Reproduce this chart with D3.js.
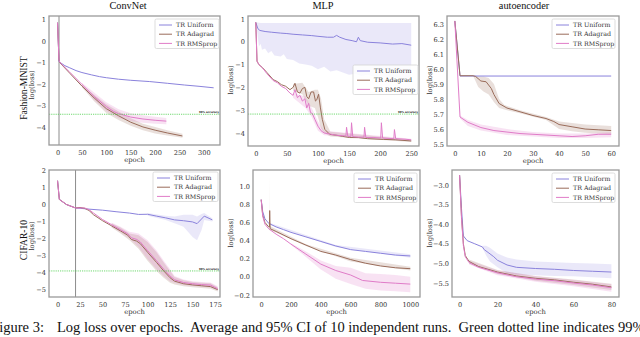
<!DOCTYPE html>
<html>
<head>
<meta charset="utf-8">
<script src="https://cdn.jsdelivr.net/npm/d3@7"></script>
<style>
  body { margin: 0; background: #fff; }
  svg { display: block; }
  .tick text { font-family: "DejaVu Serif", serif; font-size: 6.6px; fill: #333; }
</style>
</head>
<body>
<svg id="fig" width="640" height="337"></svg>
<script>
// ---- data (epoch, log loss) ----
const legendLabels = ['TR Uniform', 'TR Adagrad', 'TR RMSprop'];

// Fashion-MNIST / ConvNet
const fmConvUniform = [[0,0.85],[3,-0.95],[5,-1.0],[15,-1.15],[25,-1.25],[38,-1.38],[50,-1.47],[70,-1.58],[86,-1.66],[100,-1.71],[125,-1.78],[150,-1.83],[189,-1.89],[225,-1.97],[260,-2.05],[290,-2.11],[320,-2.18]];
const fmConvAdagrad = [[0,0.85],[3,-0.9],[5,-1.02],[25,-1.5],[50,-2.1],[75,-2.65],[100,-3.15],[125,-3.48],[150,-3.78],[175,-4.0],[200,-4.15],[225,-4.28],[256,-4.42]];
const fmConvRmsprop = [[0,0.85],[3,-0.9],[5,-1.0],[25,-1.45],[50,-2.02],[75,-2.58],[100,-3.05],[115,-3.28],[125,-3.38],[150,-3.54],[175,-3.63],[200,-3.69],[223,-3.73]];
const fmConvAdagradBand = [[50,-2.15,-2.05],[75,-2.8,-2.5],[100,-3.35,-2.95],[125,-3.68,-3.28],[150,-3.95,-3.6],[175,-4.15,-3.85],[200,-4.3,-4.0],[225,-4.4,-4.15],[256,-4.5,-4.32]];
const fmConvRmspropBand = [[50,-2.1,-1.95],[75,-2.75,-2.4],[100,-3.25,-2.85],[125,-3.58,-3.18],[150,-3.72,-3.36],[175,-3.8,-3.46],[200,-3.85,-3.53],[223,-3.88,-3.58]];
const fmConvAccuracy = -3.41;
const fmConvMarker = 3;

// Fashion-MNIST / MLP
const fmMlpUniform = [[0,0.85],[3,0.6],[6,0.5],[15,0.45],[25,0.42],[40,0.38],[50,0.36],[60,0.33],[75,0.3],[90,0.27],[100,0.24],[115,0.2],[125,0.2],[130,0.28],[135,0.2],[145,0.1],[155,0.05],[162,0.0],[165,0.2],[168,0.05],[180,-0.02],[200,-0.05],[220,-0.1],[235,-0.08],[250,-0.15]];
const fmMlpUniformBand = [[0,0.85,0.85],[3,0.3,0.84],[5,-0.2,0.83],[8,-0.1,0.82],[10,-0.35,0.82],[15,-0.3,0.82],[20,-0.5,0.82],[25,-0.4,0.82],[30,-0.6,0.82],[40,-0.65,0.82],[45,-0.55,0.82],[50,-0.75,0.82],[60,-0.8,0.82],[70,-0.95,0.82],[80,-1.0,0.82],[90,-1.05,0.82],[100,-1.2,0.82],[110,-1.1,0.82],[120,-1.3,0.82],[130,-1.25,0.82],[140,-1.35,0.82],[150,-1.45,0.82],[160,-1.4,0.82],[170,-1.5,0.82],[180,-1.45,0.82],[190,-1.55,0.82],[200,-1.5,0.82],[210,-1.6,0.82],[220,-1.55,0.82],[230,-1.6,0.82],[240,-1.65,0.82],[250,-1.6,0.82]];
const fmMlpAdagrad = [[0,0.85],[2,-0.85],[5,-1.0],[11,-1.14],[18,-1.35],[28,-1.66],[35,-1.75],[41,-1.88],[48,-1.95],[55,-2.1],[60,-2.0],[63,-1.82],[67,-2.2],[71,-2.25],[75,-2.05],[79,-2.0],[82,-2.4],[85,-2.5],[89,-2.2],[93,-2.2],[96,-2.6],[98,-2.55],[101,-2.3],[104,-2.9],[107,-3.4],[111,-3.84],[119,-4.06],[130,-4.1],[140,-4.15],[151,-4.2],[165,-4.2],[180,-4.25],[205,-4.28],[225,-4.3],[250,-4.35]];
const fmMlpRmsprop = [[0,0.85],[2,-0.85],[5,-1.0],[11,-1.15],[18,-1.4],[28,-1.7],[35,-1.8],[41,-1.95],[48,-2.05],[55,-2.25],[60,-2.35],[63,-2.1],[67,-2.45],[71,-2.35],[75,-2.6],[79,-2.5],[82,-2.9],[85,-2.7],[88,-3.1],[91,-3.15],[95,-3.4],[100,-3.7],[105,-3.9],[110,-4.0],[120,-4.05],[130,-4.1],[140,-4.12],[145,-4.13],[146,-3.75],[148,-4.15],[153,-4.15],[154,-3.55],[156,-4.16],[165,-4.18],[174,-4.18],[175,-3.75],[177,-4.2],[190,-4.2],[201,-4.22],[202,-3.55],[204,-4.22],[222,-4.25],[223,-3.85],[225,-4.25],[240,-4.27],[250,-4.3]];
const fmMlpAdagradBand = [[60,-2.15,-1.85],[75,-2.3,-1.8],[85,-2.8,-2.2],[95,-2.9,-2.1],[100,-3.3,-2.1],[105,-3.8,-2.5],[110,-4.0,-3.4],[120,-4.15,-3.95],[250,-4.4,-4.3]];
const fmMlpRmspropBand = [[60,-2.45,-2.25],[80,-2.9,-2.4],[90,-3.3,-2.9],[100,-3.9,-3.5],[110,-4.1,-3.9],[250,-4.35,-4.25]];
const fmMlpAccuracy = -3.17;

// Fashion-MNIST / autoencoder
const fmAeUniform = [[0,6.32],[2,5.953],[60,5.953]];
const fmAeAdagrad = [[0,6.32],[2,5.955],[7,5.955],[8,5.95],[10,5.92],[12,5.915],[14,5.87],[15,5.83],[17,5.77],[20,5.74],[25,5.715],[30,5.69],[35,5.67],[38,5.65],[40,5.63],[45,5.615],[50,5.6],[55,5.595],[60,5.59]];
const fmAeRmsprop = [[0,6.32],[2,5.68],[5,5.645],[10,5.61],[15,5.59],[20,5.58],[25,5.57],[30,5.565],[35,5.56],[40,5.555],[45,5.55],[50,5.555],[55,5.565],[60,5.565]];
const fmAeAdagradBand = [[7,5.955,5.955],[9,5.88,5.95],[11,5.85,5.95],[13,5.83,5.94],[15,5.78,5.9],[17,5.74,5.8],[19,5.73,5.76],[25,5.705,5.725],[35,5.66,5.68],[40,5.6,5.65],[45,5.585,5.64],[50,5.575,5.63],[55,5.57,5.625],[60,5.565,5.62]];
const fmAeRmspropBand = [[2,5.67,5.69],[5,5.62,5.66],[10,5.59,5.63],[20,5.56,5.6],[30,5.55,5.58],[40,5.54,5.57],[50,5.54,5.57],[60,5.545,5.58]];

// CIFAR-10 / ConvNet
const cfConvUniform = [[0,1.4],[2,0.3],[10,0.0],[20,-0.2],[25,-0.22],[35,-0.27],[50,-0.33],[65,-0.42],[80,-0.5],[90,-0.58],[100,-0.57],[110,-0.68],[120,-0.78],[130,-0.9],[140,-0.95],[150,-1.02],[155,-1.12],[163,-0.68],[172,-0.9]];
const cfConvUniformBand = [[100,-0.65,-0.5],[120,-0.9,-0.65],[130,-1.1,-0.7],[140,-1.3,-0.6],[150,-1.9,-0.6],[155,-2.1,-0.7],[160,-1.5,-0.55],[163,-0.9,-0.5],[172,-1.0,-0.8]];
const cfConvAdagrad = [[0,1.4],[2,0.3],[10,0.0],[20,-0.2],[25,-0.17],[30,-0.22],[35,-0.35],[40,-0.6],[50,-0.95],[60,-1.25],[70,-1.55],[78,-1.8],[82,-2.05],[88,-2.15],[92,-2.3],[100,-2.8],[110,-3.4],[118,-3.9],[125,-4.3],[130,-4.5],[140,-4.65],[150,-4.72],[160,-4.77],[170,-4.82],[178,-5.0]];
const cfConvRmsprop = [[0,1.4],[2,0.3],[10,0.0],[20,-0.2],[25,-0.2],[30,-0.2],[35,-0.3],[40,-0.5],[50,-0.88],[60,-1.18],[70,-1.48],[78,-1.72],[82,-1.95],[88,-2.05],[92,-2.2],[100,-2.7],[110,-3.3],[118,-3.8],[125,-4.2],[130,-4.42],[140,-4.58],[150,-4.65],[160,-4.7],[170,-4.73],[178,-4.95]];
const cfConvAdagradBand = [[60,-1.35,-1.1],[70,-1.7,-1.35],[80,-2.1,-1.7],[90,-2.6,-1.8],[100,-3.3,-2.2],[110,-3.9,-2.8],[118,-4.3,-3.4],[125,-4.6,-3.9],[130,-4.7,-4.25],[140,-4.8,-4.45],[150,-4.85,-4.55],[160,-4.9,-4.6],[170,-4.95,-4.62],[178,-5.1,-4.85]];
const cfConvRmspropBand = [[60,-1.3,-1.05],[70,-1.62,-1.3],[80,-2.0,-1.6],[90,-2.5,-1.7],[100,-3.2,-2.1],[110,-3.8,-2.7],[118,-4.2,-3.3],[125,-4.5,-3.8],[130,-4.6,-4.2],[140,-4.72,-4.4],[150,-4.78,-4.5],[160,-4.83,-4.55],[170,-4.87,-4.58],[178,-5.05,-4.8]];
const cfConvAccuracy = -3.9;
const cfConvMarker = 20;

// CIFAR-10 / MLP
const cfMlpUniform = [[0,0.85],[10,0.72],[25,0.64],[50,0.59],[100,0.55],[150,0.52],[200,0.49],[300,0.44],[400,0.39],[500,0.34],[600,0.3],[700,0.28],[800,0.26],[900,0.24],[1000,0.23]];
const cfMlpAdagrad = [[0,0.85],[10,0.68],[25,0.6],[50,0.55],[55,0.55],[57,0.73],[60,0.53],[100,0.5],[200,0.42],[300,0.35],[400,0.28],[500,0.24],[600,0.19],[700,0.15],[800,0.12],[900,0.1],[1000,0.09]];
const cfMlpRmsprop = [[0,0.85],[10,0.67],[25,0.58],[50,0.53],[100,0.47],[150,0.42],[200,0.36],[300,0.25],[400,0.14],[500,0.07],[600,0.02],[680,-0.04],[800,-0.06],[900,-0.07],[1000,-0.08]];
const cfMlpUniformBand = [[50,0.58,0.6],[500,0.33,0.35],[1000,0.21,0.25]];
const cfMlpAdagradBand = [[50,0.54,0.56],[56,0.54,0.56],[57,0.5,1.12],[58,0.52,0.56],[300,0.34,0.36],[600,0.17,0.21],[1000,0.07,0.11]];
const cfMlpRmspropBand = [[200,0.35,0.37],[300,0.22,0.28],[400,0.08,0.18],[500,-0.02,0.12],[600,-0.08,0.1],[700,-0.13,0.04],[800,-0.15,0.03],[900,-0.16,0.02],[1000,-0.17,0.0]];

// CIFAR-10 / autoencoder
const cfAeUniform = [[0,-2.75],[1,-3.6],[2,-4.3],[4,-4.42],[8,-4.5],[12,-4.58],[13,-4.65],[15,-4.72],[18,-4.83],[20,-4.92],[25,-5.04],[30,-5.1],[40,-5.13],[50,-5.15],[60,-5.18],[70,-5.2],[80,-5.22]];
const cfAeUniformBand = [[12,-4.6,-4.55],[14,-4.8,-4.55],[16,-4.95,-4.6],[20,-5.1,-4.75],[25,-5.25,-4.85],[30,-5.28,-4.9],[40,-5.3,-4.95],[50,-5.32,-4.97],[60,-5.33,-4.99],[70,-5.35,-5.0],[80,-5.38,-5.02]];
const cfAeAdagrad = [[0,-2.75],[1,-3.8],[2,-4.5],[3,-4.8],[5,-4.95],[10,-5.08],[15,-5.15],[20,-5.22],[30,-5.32],[40,-5.38],[50,-5.42],[60,-5.48],[70,-5.53],[80,-5.6]];
const cfAeRmsprop = [[0,-2.75],[1,-3.85],[2,-4.55],[3,-4.83],[5,-4.98],[10,-5.1],[15,-5.17],[20,-5.24],[30,-5.34],[40,-5.4],[50,-5.44],[60,-5.5],[70,-5.55],[80,-5.62]];
const cfAeAdagradBand = [[5,-5.0,-4.9],[20,-5.27,-5.17],[40,-5.44,-5.32],[60,-5.55,-5.41],[80,-5.68,-5.52]];
const cfAeRmspropBand = [[5,-5.03,-4.93],[20,-5.3,-5.18],[40,-5.47,-5.33],[60,-5.58,-5.42],[80,-5.72,-5.53]];

// caption text (the reference crops it at both edges)
const captionHead = 'Figure 3:';
const captionBody = 'Log loss over epochs.  Average and 95% CI of 10 independent runs.  Green dotted line indicates';
const captionTail = ' 99%';

// ---- layout ----
const colors = ['#8a82dc', '#9a6c5a', '#e07cc8'];
const svg = d3.select('#fig');
svg.append('rect').attr('width', 640).attr('height', 337).attr('fill', '#fff');

const panels = [
    {id: 'p1', left: 49, right: 220, top: 16, bottom: 145, xDom: [-17.5, 333], yDom: [-4.84, 1.16],
        xTicks: [0, 50, 100, 150, 200, 250, 300], yTicks: [-4, -3, -2, -1, 0, 1], yFmt: 'd',
        lines: [fmConvUniform, fmConvAdagrad, fmConvRmsprop], bands: [null, fmConvAdagradBand, fmConvRmspropBand],
        acc: fmConvAccuracy, vline: fmConvMarker, legend: [155, 19, 64], yLabelX: 32, yLabelY: 85},
    {id: 'p2', left: 248, right: 419, top: 16, bottom: 146, xDom: [-12.5, 262.5], yDom: [-4.57, 1.13],
        xTicks: [0, 50, 100, 150, 200, 250], yTicks: [-4, -3, -2, -1, 0, 1], yFmt: 'd',
        lines: [fmMlpUniform, fmMlpAdagrad, fmMlpRmsprop], bands: [fmMlpUniformBand, fmMlpAdagradBand, fmMlpRmspropBand],
        acc: fmMlpAccuracy, legend: [353, 65, 65], yLabelX: 231, yLabelY: 80},
    {id: 'p3', left: 447, right: 619, top: 16, bottom: 146, xDom: [-3, 63], yDom: [5.487, 6.353],
        xTicks: [0, 10, 20, 30, 40, 50, 60], yTicks: [5.5, 5.6, 5.7, 5.8, 5.9, 6.0, 6.1, 6.2, 6.3], yFmt: '.1f',
        lines: [fmAeUniform, fmAeAdagrad, fmAeRmsprop], bands: [null, fmAeAdagradBand, fmAeRmspropBand],
        legend: [552, 19, 63], yLabelX: 430, yLabelY: 80},
    {id: 'p4', left: 49, right: 220, top: 170, bottom: 297, xDom: [-9.5, 180.5], yDom: [-5.43, 2.03],
        xTicks: [0, 25, 50, 75, 100, 125, 150, 175], yTicks: [-5, -4, -3, -2, -1, 0, 1, 2], yFmt: 'd',
        lines: [cfConvUniform, cfConvAdagrad, cfConvRmsprop], bands: [cfConvUniformBand, cfConvAdagradBand, cfConvRmspropBand],
        acc: cfConvAccuracy, vline: cfConvMarker, legend: [153, 172, 65], yLabelX: 32, yLabelY: 236},
    {id: 'p5', left: 253, right: 420, top: 170, bottom: 297, xDom: [-55, 1065], yDom: [-0.222, 1.177],
        xTicks: [0, 200, 400, 600, 800, 1000], yTicks: [-0.2, 0, 0.2, 0.4, 0.6, 0.8, 1.0], yFmt: '.1f',
        lines: [cfMlpUniform, cfMlpAdagrad, cfMlpRmsprop], bands: [cfMlpUniformBand, cfMlpAdagradBand, cfMlpRmspropBand],
        legend: [354, 173, 63], yLabelX: 231, yLabelY: 233},
    {id: 'p6', left: 452, right: 619, top: 170, bottom: 297, xDom: [-4, 84], yDom: [-5.856, -2.62],
        xTicks: [0, 20, 40, 60, 80], yTicks: [-5.5, -5.0, -4.5, -4.0, -3.5, -3.0], yFmt: '.1f',
        lines: [cfAeUniform, cfAeAdagrad, cfAeRmsprop], bands: [cfAeUniformBand, cfAeAdagradBand, cfAeRmspropBand],
        legend: [552, 173, 63], yLabelX: 430, yLabelY: 233}
];

const minus = s => s.replace('-', '\u2212');

function drawPanel(p) {
    const x = d3.scaleLinear().domain(p.xDom).range([p.left, p.right]);
    const y = d3.scaleLinear().domain(p.yDom).range([p.bottom, p.top]);
    const g = svg.append('g');

    svg.append('clipPath').attr('id', 'clip-' + p.id)
        .append('rect').attr('x', p.left).attr('y', p.top)
        .attr('width', p.right - p.left).attr('height', p.bottom - p.top);
    const plot = g.append('g').attr('clip-path', 'url(#clip-' + p.id + ')');

    // confidence bands
    const area = d3.area().x(d => x(d[0])).y0(d => y(d[1])).y1(d => y(d[2]));
    p.bands.forEach((b, i) => {
        if (!b) return;
        plot.append('path').attr('d', area(b))
            .attr('fill', colors[i]).attr('fill-opacity', i === 0 ? 0.18 : 0.22).attr('stroke', 'none');
    });

    if (p.vline !== undefined) {
        plot.append('line').attr('x1', x(p.vline)).attr('x2', x(p.vline))
            .attr('y1', p.top).attr('y2', p.bottom)
            .attr('stroke', '#8c8c8c').attr('stroke-width', 1);
    }

    const line = d3.line().x(d => x(d[0])).y(d => y(d[1]));
    p.lines.forEach((l, i) => {
        plot.append('path').attr('d', line(l))
            .attr('fill', 'none').attr('stroke', colors[i]).attr('stroke-width', 1)
            .attr('stroke-linejoin', 'round');
    });

    if (p.acc !== undefined) {
        plot.append('line').attr('x1', p.left).attr('x2', p.right)
            .attr('y1', y(p.acc)).attr('y2', y(p.acc))
            .attr('stroke', '#4ccf4c').attr('stroke-width', 0.8).attr('stroke-dasharray', '1.2,1');
        g.append('text').attr('x', p.right - 1).attr('y', y(p.acc) - 1)
            .attr('text-anchor', 'end').attr('font-family', 'DejaVu Sans')
            .attr('font-size', 2.6).attr('font-weight', 'bold').attr('fill', '#222')
            .text('99% accuracy');
    }

    // axes
    const fmt = d3.format(p.yFmt);
    g.append('g').attr('transform', 'translate(' + p.left + ',0)')
        .call(d3.axisLeft(y).tickValues(p.yTicks).tickSize(0).tickPadding(3).tickFormat(d => minus(fmt(d))))
        .call(a => a.select('.domain').remove());
    g.append('g').attr('transform', 'translate(0,' + p.bottom + ')')
        .call(d3.axisBottom(x).tickValues(p.xTicks).tickSize(0).tickPadding(5).tickFormat(d3.format('d')))
        .call(a => a.select('.domain').remove());

    g.append('rect').attr('x', p.left).attr('y', p.top)
        .attr('width', p.right - p.left).attr('height', p.bottom - p.top)
        .attr('fill', 'none').attr('stroke', '#9a9a9a').attr('stroke-width', 1.3);

    g.append('text').attr('x', (p.left + p.right) / 2).attr('y', p.bottom + 17)
        .attr('text-anchor', 'middle').attr('font-family', 'DejaVu Serif')
        .attr('font-size', 6.8).attr('fill', '#333').text('epoch');

    g.append('text').attr('transform', 'translate(' + p.yLabelX + ',' + p.yLabelY + ') rotate(-90)')
        .attr('text-anchor', 'middle').attr('dy', '0.35em').attr('font-family', 'DejaVu Serif')
        .attr('font-size', 6.8).attr('fill', '#333').text('log(loss)');

    // legend
    const [lx, ly, lw] = p.legend;
    const lg = g.append('g');
    lg.append('rect').attr('x', lx).attr('y', ly).attr('width', lw).attr('height', 29.5)
        .attr('rx', 1.5).attr('fill', '#fff').attr('fill-opacity', 0.85)
        .attr('stroke', '#d4d4d4').attr('stroke-width', 0.8);
    legendLabels.forEach((t, i) => {
        const yy = ly + 6 + i * 9.2;
        lg.append('line').attr('x1', lx + 4).attr('x2', lx + 17).attr('y1', yy).attr('y2', yy)
            .attr('stroke', colors[i]).attr('stroke-width', 1);
        lg.append('text').attr('x', lx + 21).attr('y', yy).attr('dy', '0.35em')
            .attr('font-family', 'DejaVu Serif').attr('font-size', 6.3).attr('fill', '#333').text(t);
    });
}

panels.forEach(drawPanel);

// titles and row labels
const serif = 'Liberation Serif';
[['ConvNet', 128], ['MLP', 323], ['autoencoder', 524]].forEach(([t, cx]) => {
    svg.append('text').attr('x', cx).attr('y', 8.5).attr('text-anchor', 'middle')
        .attr('font-family', serif).attr('font-size', 10.3).attr('fill', '#111').text(t);
});
[['Fashion-MNIST', 24, 88], ['CIFAR-10', 24, 240]].forEach(([t, cx, cy]) => {
    svg.append('text').attr('transform', 'translate(' + cx + ',' + cy + ') rotate(-90)')
        .attr('text-anchor', 'middle').attr('dy', '0.35em')
        .attr('font-family', serif).attr('font-size', 9.6).attr('fill', '#111').text(t);
});

// caption: size it so "Log ... indicates" spans the same width as in the reference
const capStart = 57, capEnd = 615;
const cap = svg.append('g').attr('font-family', serif).attr('fill', '#111');
const body = cap.append('text').attr('x', capStart).attr('y', 332)
    .attr('font-size', 16).style('white-space', 'pre').text(captionBody);
const capSize = 16 * (capEnd - capStart) / body.node().getComputedTextLength();
body.attr('font-size', capSize).text(captionBody + captionTail);
cap.append('text').attr('x', capStart - capSize * 0.9).attr('y', 332)
    .attr('text-anchor', 'end').attr('font-size', capSize).text(captionHead);
</script>
</body>
</html>
